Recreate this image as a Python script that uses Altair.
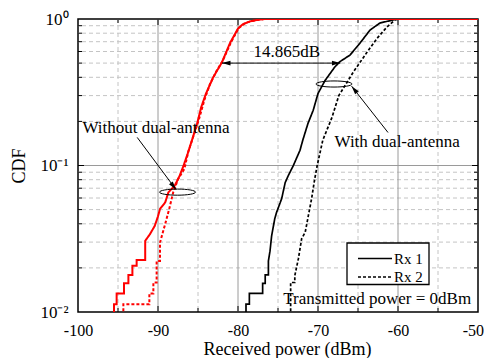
import altair as alt
import pandas as pd

FONT = "Liberation Serif"
W, H = 400, 293

# ---- curves (x in dBm, y = CDF) ----
wo_rx1_x = [-95.5, -95.5, -95.17, -95.17, -94.25, -94.25, -93.7, -93.7, -93.2, -93.2, -92.67, -92.67,
            -91.6, -91.6, -91.0, -90.4, -90.0, -89.75, -89.1, -88.7, -87.9, -87.3, -86.8, -86.3,
            -85.75, -85.1, -84.6, -84.0, -83.1, -82.0, -81.0, -80.0, -79.4, -78.6, -77.6, -76.8, -50.0]
wo_rx1_y = [0.008, 0.0113, 0.0113, 0.0134, 0.0134, 0.0157, 0.0157, 0.0179, 0.0179, 0.0207, 0.0207, 0.0226,
            0.0226, 0.0306, 0.034, 0.0388, 0.045, 0.0505, 0.056, 0.0656, 0.073, 0.085, 0.1, 0.12,
            0.149, 0.194, 0.25, 0.31, 0.40, 0.507, 0.685, 0.86, 0.92, 0.96, 0.985, 1.0, 1.0]

wo_rx2_x = [-94.33, -94.33, -91.08, -91.08, -90.58, -90.58, -90.17, -90.17, -89.75, -89.75, -89.1, -88.6,
            -88.1, -87.5, -86.7, -86.2, -85.9, -85.4, -84.9, -84.2, -83.5, -82.7, -81.9, -80.9, -79.9,
            -79.2, -78.3, -77.3, -76.6, -50.0]
wo_rx2_y = [0.008, 0.0113, 0.0113, 0.0134, 0.0134, 0.0159, 0.0159, 0.0223, 0.0223, 0.0298, 0.0399, 0.0505,
            0.0656, 0.0805, 0.095, 0.125, 0.14, 0.17, 0.205, 0.28, 0.36, 0.44, 0.52, 0.69, 0.87,
            0.93, 0.97, 0.99, 1.0, 1.0]

w_rx1_x = [-79.0, -79.0, -78.58, -78.58, -76.92, -76.92, -76.6, -76.6, -76.2, -76.2, -76.0, -75.8, -75.4,
           -75.17, -74.54, -74.1, -73.7, -73.08, -72.25, -71.9, -71.25, -70.6, -70.0, -69.1, -67.9,
           -67.3, -66.0, -64.75, -63.5, -62.25, -60.6, -60.1, -50.0]
w_rx1_y = [0.008, 0.0113, 0.0113, 0.0134, 0.0134, 0.0157, 0.0157, 0.0179, 0.0179, 0.0223, 0.026, 0.033, 0.0435,
           0.048, 0.0594, 0.0765, 0.0856, 0.1, 0.127, 0.149, 0.194, 0.238, 0.31, 0.382, 0.47,
           0.51, 0.567, 0.685, 0.84, 0.94, 0.985, 1.0, 1.0]

w_rx2_x = [-73.42, -73.42, -72.9, -72.9, -72.46, -72.04, -71.6, -71.2, -70.8, -70.4, -70.1, -69.4, -68.25,
           -67.4, -66.5, -65.6, -63.9, -62.6, -61.4, -60.4, -59.8, -50.0]
w_rx2_y = [0.008, 0.0159, 0.0159, 0.0177, 0.023, 0.0317, 0.035, 0.0456, 0.0594, 0.0815, 0.1, 0.149, 0.213,
           0.30, 0.36, 0.433, 0.59, 0.74, 0.88, 0.985, 1.0, 1.0]

# ---- axes / grid ----
x_labels = [-100, -90, -80, -70, -60, -50]
x_major = [-90, -80, -70, -60]
x_minor = [-95, -85, -75, -65, -55]
y_labels = [0.01, 0.1, 1]
y_major = [0.1]
y_minor = [0.02, 0.03, 0.04, 0.05, 0.06, 0.07, 0.08, 0.09, 0.2, 0.3, 0.4, 0.5, 0.6, 0.7, 0.8, 0.9]

# ---- legend ----
legend_labels = ["Rx 1", "Rx 2"]

# ---- annotations ----
note_text = ["14.865dB", "Without dual-antenna", "With dual-antenna", "Transmitted power = 0dBm"]
note_x = [-73.9, -90.25, -60.1, -62.6]
note_y = [0.594, 0.179, 0.144, 0.01228]

ell_x = [-68.0, -87.56]
ell_y = [0.36, 0.0658]

arrow_x = [-82.0, -61.25, -92.6]
arrow_x2 = [-67.2, -65.8, -87.75]
arrow_y = [0.5, 0.168, 0.1555]
arrow_y2 = [0.5, 0.348, 0.0685]

head_x = [-82.0, -67.2, -65.8, -87.75]
head_y = [0.5, 0.5, 0.348, 0.0685]
head_angle = [270, 90, 321, 143]

# ---- build data ----
rows = []
for grp, rx, xs, ys in [("with", "Rx 1", w_rx1_x, w_rx1_y), ("with", "Rx 2", w_rx2_x, w_rx2_y),
                        ("without", "Rx 1", wo_rx1_x, wo_rx1_y), ("without", "Rx 2", wo_rx2_x, wo_rx2_y)]:
    for i, (a, b) in enumerate(zip(xs, ys)):
        rows.append({"group": grp, "rx": rx, "x": a, "y": b, "i": i})
curves = pd.DataFrame(rows)

xscale = alt.Scale(domain=[-100, -50], nice=False, zero=False)
yscale = alt.Scale(type="log", domain=[0.01, 1], nice=False)
dash_scale = alt.Scale(domain=legend_labels, range=[[1, 0], [3, 2]])

x_axis = alt.Axis(values=x_labels, grid=False, ticks=False, domain=False, labelFont=FONT, labelFontSize=16,
                  labelColor="black", labelPadding=23, labelBaseline="alphabetic", labelFlush=False,
                  labelExpr="'' + datum.value",
                  labelAlign={"condition": {"test": "datum.value == -50", "value": "right"}, "value": "center"},
                  labelOffset={"condition": {"test": "datum.value == -50", "value": 5.5}, "value": 0},
                  title="Received power (dBm)", titleFont=FONT, titleFontSize=18, titleFontWeight="normal",
                  titleColor="black", titleX=209, titleY=42, titleBaseline="alphabetic", titleAlign="center")
y_axis = alt.Axis(values=y_labels, grid=False, ticks=False, domain=False, labelFont=FONT, labelFontSize=17,
                  labelColor="black", labelPadding=10, labelFlush=False,
                  labelExpr="datum.value >= 0.99 ? '10⁰' : (datum.value >= 0.099 ? '10⁻¹' : '10⁻²')",
                  title="CDF", titleFont=FONT, titleFontSize=18, titleFontWeight="normal", titleColor="black",
                  titlePadding=11)

def X(field="x"):
    return alt.X(f"{field}:Q", scale=xscale, axis=x_axis)

def Y(field="y"):
    return alt.Y(f"{field}:Q", scale=yscale, axis=y_axis)

layers = []

# grid
def vgrid(vals, color, dash):
    return alt.Chart(pd.DataFrame({"x": vals})).mark_rule(color=color, strokeWidth=1, strokeDash=dash).encode(x=X())

def hgrid(vals, color, dash):
    return alt.Chart(pd.DataFrame({"y": vals})).mark_rule(color=color, strokeWidth=1, strokeDash=dash).encode(y=Y())

layers += [vgrid(x_minor, "#c4c4c4", [4, 3]), hgrid(y_minor, "#c4c4c4", [4, 3]),
           vgrid(x_major, "#9a9a9a", [1, 0]), hgrid(y_major, "#9a9a9a", [1, 0])]

# inward ticks
def xticks(vals, L):
    d = pd.DataFrame({"x": vals})
    b = alt.Chart(d).mark_rule(color="black", strokeWidth=1).encode(x=X(), y=alt.value(H), y2=alt.value(H - L))
    t = alt.Chart(d).mark_rule(color="black", strokeWidth=1).encode(x=X(), y=alt.value(0), y2=alt.value(L))
    return [b, t]

def yticks(vals, L):
    d = pd.DataFrame({"y": vals})
    l = alt.Chart(d).mark_rule(color="black", strokeWidth=1).encode(y=Y(), x=alt.value(0), x2=alt.value(L))
    r = alt.Chart(d).mark_rule(color="black", strokeWidth=1).encode(y=Y(), x=alt.value(W), x2=alt.value(W - L))
    return [l, r]

layers += xticks(x_major, 6) + xticks(x_minor, 4) + yticks(y_major, 6) + yticks(y_minor, 4)

black = alt.Chart(curves).transform_filter(alt.datum.group == "with").mark_line(
    color="black", strokeWidth=1.7, clip=True).encode(
    x=X(), y=Y(), detail="rx:N",
    strokeDash=alt.StrokeDash("rx:N", scale=dash_scale, legend=None), order="i:Q")
red = alt.Chart(curves).transform_filter(alt.datum.group == "without").mark_line(
    color="#ff0000", strokeWidth=2, clip=True).encode(
    x=X(), y=Y(), detail="rx:N",
    strokeDash=alt.StrokeDash("rx:N", scale=dash_scale, legend=None), order="i:Q")
layers += [black, red]

# legend box (drawn in plot pixels)
leg = pd.DataFrame({"rx": legend_labels})
layers.append(alt.Chart(pd.DataFrame({"k": [0]})).mark_rect(fill="white", stroke="black", strokeWidth=1.3).encode(
    x=alt.value(269), x2=alt.value(351), y=alt.value(224), y2=alt.value(265.5)))
for k, lab in enumerate(legend_labels):
    yy = 239.5 + 18.5 * k
    sub = leg[leg.rx == lab]
    layers.append(alt.Chart(sub).mark_rule(color="black", strokeWidth=1.6).encode(
        x=alt.value(280), x2=alt.value(314), y=alt.value(yy),
        strokeDash=alt.StrokeDash("rx:N", scale=dash_scale, legend=None)))
    layers.append(alt.Chart(sub).mark_text(font=FONT, fontSize=15, color="black", align="left",
                                           baseline="middle").encode(
        x=alt.value(316), y=alt.value(yy), text="rx:N"))

# ellipses
ell_shape = "M-1,0A1,0.17,0,1,1,1,0A1,0.17,0,1,1,-1,0Z"
layers.append(alt.Chart(pd.DataFrame({"x": ell_x, "y": ell_y})).mark_point(
    shape=ell_shape, size=1296, filled=False, color="black", strokeWidth=1, opacity=1).encode(x=X(), y=Y()))

# arrows
layers.append(alt.Chart(pd.DataFrame({"x": arrow_x, "x2": arrow_x2, "y": arrow_y, "y2": arrow_y2})).mark_rule(
    color="black", strokeWidth=1).encode(x=X(), x2="x2:Q", y=Y(), y2="y2:Q"))
layers.append(alt.Chart(pd.DataFrame({"x": head_x, "y": head_y, "a": head_angle})).mark_point(
    shape="M0,0L0.55,2L-0.55,2Z", size=72, filled=True, color="black", opacity=1).encode(
    x=X(), y=Y(), angle=alt.Angle("a:Q", scale=None)))

# texts
layers.append(alt.Chart(pd.DataFrame({"x": note_x, "y": note_y, "t": note_text})).mark_text(
    font=FONT, fontSize=17, color="black", align="center", baseline="middle").encode(x=X(), y=Y(), text="t:N"))

chart = alt.layer(*layers).properties(
    width=W, height=H, autosize=alt.AutoSizeParams(type="none"),
    padding={"left": 70, "top": 11, "right": 6, "bottom": 46}
).configure_view(stroke="black", strokeWidth=1.5)

chart.save("out.html", embed_options={"renderer": "svg", "actions": False})
